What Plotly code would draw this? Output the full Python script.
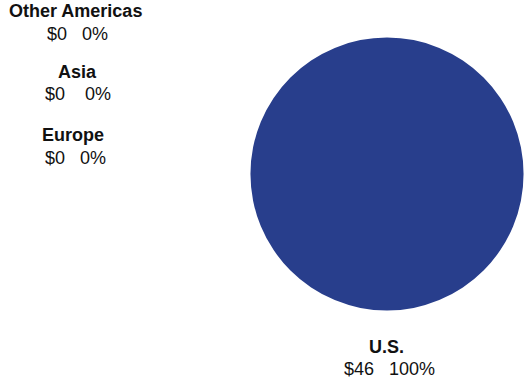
import plotly.graph_objects as go

regions = ["U.S.", "Europe", "Asia", "Other Americas"]
values = [46, 0, 0, 0]
percents = [100, 0, 0, 0]
colors = ["#283E8C", "#6F86C4", "#A9B8DE", "#D5DDF0"]

W, H = 528, 383

fig = go.Figure(go.Pie(
    labels=regions, values=values, sort=False, direction="clockwise",
    marker=dict(colors=colors, line=dict(width=0)),
    textinfo="none", hoverinfo="label+value+percent",
    domain=dict(x=[250.5 / W, 523.5 / W], y=[1 - 311 / H, 1 - 37 / H]),
    showlegend=False,
))

# label anchor positions (pixels): name x, name y, value x, value y
label_pos = {
    "U.S.": (386, 347, 389, 369),
    "Europe": (73, 135, 75, 158),
    "Asia": (77, 72, 78, 94),
    "Other Americas": (75, 11, 77, 34),
}
gap = {"U.S.": 3, "Europe": 3, "Asia": 4, "Other Americas": 3}

font = "Liberation Sans, Arial, sans-serif"
for r, v, p in zip(regions, values, percents):
    x1, y1, x2, y2 = label_pos[r]
    fig.add_annotation(x=x1 / W, y=1 - y1 / H, xref="paper", yref="paper",
                       text=f"<b>{r}</b>", showarrow=False, borderpad=0,
                       font=dict(family=font, size=18, color="#111111"),
                       xanchor="center", yanchor="middle")
    fig.add_annotation(x=x2 / W, y=1 - y2 / H, xref="paper", yref="paper",
                       text=f"${v}{chr(160) * gap[r]}{p}%", showarrow=False,
                       borderpad=0,
                       font=dict(family=font, size=18, color="#111111"),
                       xanchor="center", yanchor="middle")

fig.update_layout(width=W, height=H, margin=dict(l=0, r=0, t=0, b=0),
                  paper_bgcolor="white", plot_bgcolor="white")
fig.write_html("out.html")
